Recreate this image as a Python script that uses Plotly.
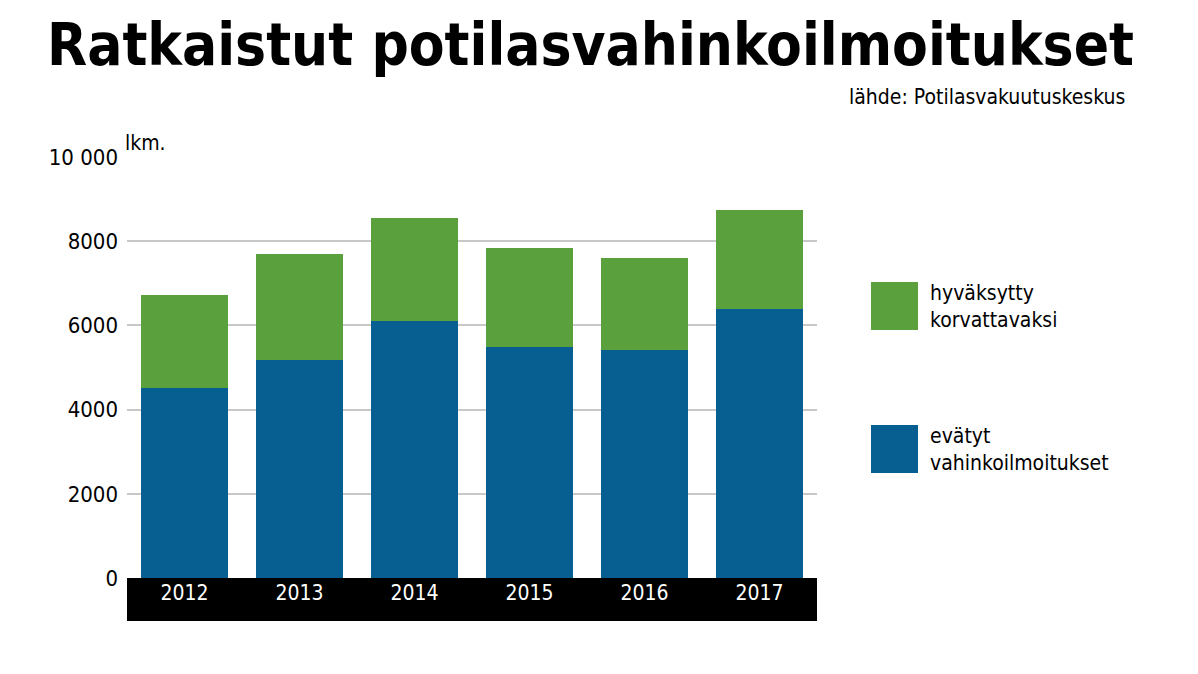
import plotly.graph_objects as go

years = ["2012", "2013", "2014", "2015", "2016", "2017"]
denied = [4510, 5180, 6100, 5490, 5420, 6390]
total = [6720, 7700, 8550, 7840, 7600, 8740]
approved = [t - d for t, d in zip(total, denied)]
names = ["evätyt<br>vahinkoilmoitukset", "hyväksytty<br>korvattavaksi"]
colors = ["#065e91", "#5aa03c"]
yticks = [0, 2000, 4000, 6000, 8000, 10000]
yticktext = ["0", "2000", "4000", "6000", "8000", "10 000"]

fig = go.Figure()
fig.add_bar(x=years, y=denied, marker_color=colors[0], name=names[0], marker_line_width=0)
fig.add_bar(x=years, y=approved, marker_color=colors[1], name=names[1], marker_line_width=0)

font = "DejaVu Sans Condensed, Liberation Sans, sans-serif"
fig.update_layout(
    barmode="stack", bargap=0.25, showlegend=False,
    width=1198, height=674, plot_bgcolor="white", paper_bgcolor="white",
    margin=dict(l=119, r=389, t=149, b=104),
    font=dict(family=font, color="black"),
    xaxis=dict(tickfont=dict(color="white", size=21), ticks="", showgrid=False),
    yaxis=dict(range=[0, 10000], tickvals=yticks, ticktext=yticktext,
               gridcolor="#c8c8c8", gridwidth=1.5, zeroline=False,
               tickfont=dict(size=22), ticks="", ticklabelstandoff=8),
)
fig.add_shape(type="rect", xref="paper", yref="paper", x0=0, x1=1, y0=-43/421, y1=0,
              fillcolor="black", line_width=0, layer="below")
fig.add_annotation(text="<b>Ratkaistut potilasvahinkoilmoitukset</b>", xref="paper", yref="paper",
                   x=(45-127)/690, y=(578-45)/421, xanchor="left", yanchor="middle",
                   showarrow=False, font=dict(size=58, family=font))
fig.add_annotation(text="lähde: Potilasvakuutuskeskus", xref="paper", yref="paper",
                   x=(1127-127)/690, y=(578-97)/421, xanchor="right", yanchor="middle",
                   showarrow=False, font=dict(size=21, family=font))
fig.add_annotation(text="lkm.", xref="paper", yref="paper", x=-4/690, y=(578-143)/421,
                   xanchor="left", yanchor="middle", showarrow=False, font=dict(size=21, family=font))
for i, yc in enumerate([449, 306]):
    fig.add_shape(type="rect", xref="paper", yref="paper",
                  x0=(871-127)/690, x1=(918-127)/690, y0=(578-yc-24)/421, y1=(578-yc+24)/421,
                  fillcolor=colors[i], line_width=0)
    fig.add_annotation(text=names[i], xref="paper", yref="paper", x=(928-127)/690,
                       y=(578-yc)/421, xanchor="left", yanchor="middle", align="left",
                       showarrow=False, font=dict(size=21, family=font))
fig.write_html("out.html")
